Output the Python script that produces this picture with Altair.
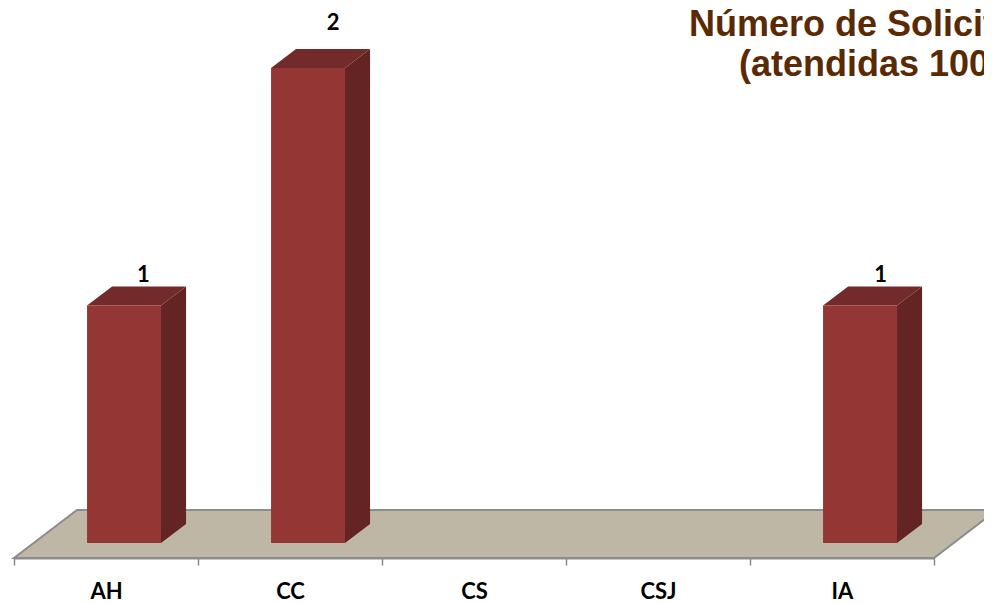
import altair as alt
import pandas as pd

categories = ["AH", "CC", "CS", "CSJ", "IA"]
values = [1, 2, 0, 0, 1]
label_lift = [0.129, 0.190, 0, 0, 0.129]
label_shift = [0.105, 0.136, 0, 0, 0.112]
title_lines = ["Número de Solicitudes", "(atendidas 100%)"]

# geometry in data units (x: one unit per category, y: one unit per request)
BAR_L, BAR_R = 0.397, 0.799
DX, DY = 0.136, 0.080
FLOOR_Y0, FLOOR_Y1 = -0.0632, 0.139
FLOOR_DX = 0.342
X_DOM = [-0.0326, 5.2717]
Y_DOM = [-0.0632, 2.2526]

FRONT, SIDE, TOP = "#943634", "#632423", "#722B2A"
FLOOR, EDGE = "#BFB7A6", "#8C8C8C"
TITLE = "#5A2A04"

front, side, top, labels = [], [], [], []
for i, (c, v) in enumerate(zip(categories, values)):
    if v <= 0:
        continue
    l, r = i + BAR_L, i + BAR_R
    front.append({"cat": c, "l": l, "r": r, "y0": 0, "y1": v})
    side.append({"cat": c, "x": r, "y0": 0, "y1": v})
    side.append({"cat": c, "x": r + DX, "y0": DY, "y1": v + DY})
    top.append({"cat": c, "y": v, "x0": l, "x1": r})
    top.append({"cat": c, "y": v + DY, "x0": l + DX, "x1": r + DX})
    labels.append({"cat": c, "v": v, "x": (l + r) / 2 + label_shift[i], "y": v + label_lift[i]})

floor = pd.DataFrame([
    {"y": FLOOR_Y0, "x0": 0, "x1": 5},
    {"y": FLOOR_Y1, "x0": FLOOR_DX, "x1": 5 + FLOOR_DX},
])

xq = alt.Scale(domain=X_DOM, nice=False, zero=False)
yq = alt.Scale(domain=Y_DOM, nice=False, zero=False)
X = lambda f: alt.X(f, type="quantitative", scale=xq, axis=None)
Y = lambda f: alt.Y(f, type="quantitative", scale=yq, axis=None)

floor_layer = alt.Chart(floor).mark_area(
    orient="horizontal", fill=FLOOR, stroke=EDGE, strokeWidth=2
).encode(y=Y("y"), x=X("x0"), x2="x1")

axis_layer = alt.Chart(pd.DataFrame({"cat": categories})).mark_rule(opacity=0).encode(
    x=alt.X(
        "cat:N",
        sort=categories,
        title=None,
        scale=alt.Scale(range=[6, 926], paddingInner=0, paddingOuter=0),
        axis=alt.Axis(
            orient="bottom", tickBand="extent", labelAngle=0, labelFont="Lato", labelFontWeight="bold",
            labelFontSize=22, labelColor="#000000", labelPadding=16, tickSize=7,
            tickColor=EDGE, tickWidth=1.5, domainColor=EDGE, domainWidth=2, grid=False,
            labelOverlap=False,
        ),
    ),
)

front_layer = alt.Chart(pd.DataFrame(front)).mark_bar(color=FRONT).encode(
    x=X("l"), x2="r", y=Y("y0"), y2="y1"
)
side_layer = alt.Chart(pd.DataFrame(side)).mark_area(color=SIDE).encode(
    x=X("x"), y=Y("y0"), y2="y1", detail="cat:N"
)
top_layer = alt.Chart(pd.DataFrame(top)).mark_area(orient="horizontal", color=TOP).encode(
    y=Y("y"), x=X("x0"), x2="x1", detail="cat:N"
)
label_layer = alt.Chart(pd.DataFrame(labels)).mark_text(
    font="Lato", fontWeight="bold", fontSize=22, color="#000000", baseline="middle"
).encode(x=X("x"), y=Y("y"), text="v:Q")

title_df = pd.DataFrame({
    "t": title_lines,
    "x": [(689 - 14) / 184, (739 - 14) / 184],
    "y": [(543 - 36) / 237.5, (543 - 76) / 237.5],
})
title_layer = alt.Chart(title_df).mark_text(
    font="Liberation Sans", fontWeight="bold", fontSize=36, color=TITLE, align="left", baseline="alphabetic"
).encode(x=X("x"), y=Y("y"), text="t:N")

chart = alt.layer(
    floor_layer, axis_layer, side_layer, top_layer, front_layer, label_layer, title_layer
).resolve_scale(x="independent").properties(
    width=976,
    height=550,
    padding={"left": 0, "top": 0, "right": 0, "bottom": 46},
    autosize=alt.AutoSizeParams(type="none"),
    background="#FFFFFF",
).configure_view(stroke=None)

chart.save("out.html", embed_options={"renderer": "svg", "actions": False})
